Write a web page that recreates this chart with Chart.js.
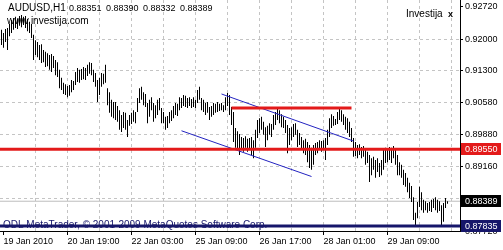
<!DOCTYPE html>
<html><head><meta charset="utf-8">
<script src="https://cdn.jsdelivr.net/npm/chart.js@4"></script>
<style>html,body{margin:0;padding:0;background:#fff;}#wrap{width:503px;height:250px;}</style>
</head><body><div id="wrap"><canvas id="c" width="503" height="250"></canvas></div>
<script>
// ---- data (AUDUSD H1) ----
const highs = [
0.9221,0.9214,0.9223,0.9225,0.9234,0.9243,0.9247,0.9250,0.9245,0.9252,0.9254,0.9250,0.9252,0.9245,0.9239,0.9234,
0.9210,0.9198,0.9194,0.9187,0.9189,0.9176,0.9172,0.9169,0.9165,0.9167,0.9163,0.9154,0.9149,0.9132,0.9114,0.9103,
0.9100,0.9096,0.9098,0.9109,0.9107,0.9127,0.9136,0.9132,0.9134,0.9138,0.9136,0.9143,0.9149,0.9147,0.9132,0.9125,
0.9109,0.9114,0.9125,0.9123,0.9143,0.9091,0.9082,0.9065,0.9060,0.9060,0.9051,0.9042,0.9031,0.9038,0.9036,0.9020,
0.9031,0.9036,0.9042,0.9038,0.9069,0.9091,0.9094,0.9082,0.9078,0.9058,0.9065,0.9071,0.9058,0.9053,0.9065,0.9069,
0.9047,0.9038,0.9027,0.9029,0.9038,0.9042,0.9051,0.9058,0.9056,0.9071,0.9069,0.9076,0.9074,0.9069,0.9071,0.9067,
0.9071,0.9065,0.9087,0.9094,0.9069,0.9065,0.9058,0.9060,0.9049,0.9051,0.9058,0.9056,0.9060,0.9056,0.9058,0.9053,
0.9071,0.9080,0.9076,0.9049,0.9038,0.9002,0.8995,0.8989,0.8982,0.8980,0.8984,0.8978,0.8980,0.8982,0.8975,0.8998,
0.9020,0.9024,0.9027,0.9016,0.9004,0.9007,0.9013,0.9011,0.9031,0.9038,0.9047,0.9042,0.9033,0.9027,0.9020,0.9009,
0.9002,0.9004,0.9011,0.9013,0.8998,0.8991,0.8982,0.8975,0.8978,0.8971,0.8964,0.8958,0.8964,0.8969,0.8971,0.8975,
0.8973,0.8975,0.8980,0.8998,0.9024,0.9033,0.9029,0.9022,0.9038,0.9045,0.9042,0.9033,0.9027,0.9024,0.9016,0.9002,
0.8980,0.8971,0.8964,0.8966,0.8960,0.8962,0.8953,0.8949,0.8942,0.8935,0.8938,0.8931,0.8935,0.8924,0.8931,0.8953,
0.8958,0.8955,0.8960,0.8958,0.8962,0.8953,0.8942,0.8926,0.8920,0.8909,0.8902,0.8891,0.8880,0.8873,0.8848,0.8813,
0.8837,0.8871,0.8859,0.8842,0.8839,0.8835,0.8837,0.8842,0.8844,0.8848,0.8842,0.8839,0.8830,0.8835,0.8846,0.8839
];
const lows = [
0.9187,0.9181,0.9194,0.9176,0.9207,0.9214,0.9221,0.9225,0.9223,0.9230,0.9227,0.9232,0.9225,0.9218,0.9214,0.9203,
0.9154,0.9165,0.9160,0.9154,0.9147,0.9149,0.9138,0.9140,0.9132,0.9127,0.9136,0.9120,0.9116,0.9091,0.9087,0.9078,
0.9076,0.9071,0.9074,0.9082,0.9087,0.9098,0.9105,0.9103,0.9109,0.9111,0.9109,0.9118,0.9123,0.9120,0.9105,0.9094,
0.9060,0.9076,0.9094,0.9100,0.9103,0.9053,0.9036,0.9027,0.9024,0.9020,0.9016,0.8998,0.8993,0.9002,0.8998,0.8982,
0.9007,0.9011,0.9016,0.9013,0.9038,0.9058,0.9065,0.9053,0.9049,0.9013,0.9027,0.9042,0.9016,0.9024,0.9031,0.9042,
0.9013,0.9013,0.8998,0.9002,0.9013,0.9018,0.9024,0.9031,0.9029,0.9042,0.9047,0.9051,0.9049,0.9047,0.9051,0.9047,
0.9049,0.9047,0.9058,0.9065,0.9042,0.9038,0.9031,0.9036,0.9020,0.9027,0.9031,0.9036,0.9038,0.9040,0.9042,0.9038,
0.9042,0.9051,0.9031,0.9009,0.8971,0.8958,0.8953,0.8942,0.8953,0.8949,0.8958,0.8949,0.8953,0.8942,0.8935,0.8958,
0.8980,0.8991,0.8998,0.8987,0.8960,0.8975,0.8987,0.8982,0.8998,0.9009,0.9020,0.9013,0.9004,0.9002,0.8991,0.8946,
0.8964,0.8975,0.8982,0.8987,0.8960,0.8964,0.8953,0.8946,0.8942,0.8926,0.8913,0.8909,0.8920,0.8942,0.8946,0.8953,
0.8949,0.8953,0.8931,0.8964,0.8982,0.9002,0.9007,0.9009,0.9011,0.9020,0.9016,0.9009,0.8998,0.8991,0.8982,0.8971,
0.8938,0.8940,0.8935,0.8942,0.8935,0.8938,0.8920,0.8924,0.8882,0.8897,0.8909,0.8891,0.8904,0.8893,0.8897,0.8909,
0.8924,0.8926,0.8931,0.8924,0.8935,0.8920,0.8897,0.8897,0.8891,0.8875,0.8871,0.8859,0.8846,0.8837,0.8797,0.87835,
0.8801,0.8826,0.8819,0.8813,0.8819,0.8813,0.8817,0.8815,0.8824,0.8819,0.8813,0.8817,0.87835,0.8793,0.8824,0.88332
];
const xTickIndex  = [1, 33, 65, 97, 129, 161, 193];
const xTickLabels = ['19 Jan 2010','20 Jan 19:00','22 Jan 03:00','25 Jan 09:00','26 Jan 17:00','28 Jan 01:00','29 Jan 09:00'];
const xGridIndex  = [17,33,49,65,81,97,113,129,145,161,177,193,209,225];
const yTickValues = [0.92720,0.92000,0.91300,0.90580,0.89880,0.89160,0.88440,0.87720];
const supportLevel = 0.89550;
const lowLevel     = 0.87835;
const bidPrice     = 0.88389;
const resistance   = [[115,0.9047],[175,0.9047]];
const channelUpper = [[110,0.9078],[176,0.8973]];
const channelLower = [[90,0.8996],[155,0.8894]];
const symbolText   = 'AUDUSD,H1';
const ohlcText     = ['0.88351','0.88390','0.88332','0.88389'];
const xMin = -0.75, xMax = 229.25, yMin = 0.87725, yMax = 0.92876;

const FONT = '"Liberation Sans", Arial, sans-serif';
const RED = '#e31a1a', NAVY = '#16166a', BLUE = '#2323c0', GRID = '#c4c4c4';

const pts = arr => arr.map(p => ({x:p[0], y:p[1]}));
const hline = v => [{x:xMin,y:v},{x:xMax,y:v}];

const allXTicks = Array.from(new Set([...xTickIndex, ...xGridIndex])).sort((a,b)=>a-b);

const overlay = {
  id:'overlay',
  beforeDatasetsDraw(chart){
    const ctx = chart.ctx;
    ctx.save();
    ctx.fillStyle = '#000';
    ctx.textBaseline = 'alphabetic';
    ctx.font = '10px ' + FONT;
    ctx.fillText(symbolText, 8, 11);
    ctx.font = '9px ' + FONT;
    let x = 69;
    ohlcText.forEach(t => { ctx.fillText(t, x, 11); x += 37; });
    ctx.font = '10px ' + FONT;
    ctx.fillText('www.investija.com', 7, 24);
    ctx.fillText('Investija', 406, 17);
    ctx.font = 'bold 9px ' + FONT;
    ctx.fillText('x', 448, 17);
    ctx.fillStyle = NAVY;
    ctx.font = '10px ' + FONT;
    ctx.fillText('ODL MetaTrader, \u00a9 2001-2009 MetaQuotes Software Corp.', 3, 228);
    ctx.restore();
  },
  afterDraw(chart){
    const ctx = chart.ctx, ys = chart.scales.y;
    const box = (v, txt, bg) => {
      const py = Math.round(ys.getPixelForValue(v));
      ctx.fillStyle = bg;
      ctx.fillRect(461, py - 6, 40, 12);
      ctx.fillStyle = '#fff';
      ctx.font = '9px ' + FONT;
      ctx.textBaseline = 'middle';
      ctx.fillText(txt, 465, py + 0.5);
    };
    ctx.save();
    box(supportLevel, supportLevel.toFixed(5), RED);
    box(bidPrice, bidPrice.toFixed(5), '#000');
    box(lowLevel, lowLevel.toFixed(5), NAVY);
    ctx.restore();
  }
};

new Chart(document.getElementById('c'), {
  type:'bar',
  data:{datasets:[
    {type:'line', data:hline(supportLevel), borderColor:RED, borderWidth:3, pointRadius:0, order:1},
    {type:'line', data:hline(lowLevel), borderColor:NAVY, borderWidth:3, pointRadius:0, order:1},
    {type:'line', data:pts(resistance), borderColor:RED, borderWidth:3, pointRadius:0, order:1},
    {type:'line', data:pts(channelUpper), borderColor:BLUE, borderWidth:1, pointRadius:0, order:1},
    {type:'line', data:pts(channelLower), borderColor:BLUE, borderWidth:1, pointRadius:0, order:1},
    {type:'bar', data:highs.map((h,i)=>({x:i, y:[lows[i], h]})), backgroundColor:'#000', borderWidth:0,
      barThickness:1, inflateAmount:0, order:5},
    {type:'line', data:hline(bidPrice), borderColor:'#bdbdbd', borderWidth:1, pointRadius:0, order:8}
  ]},
  options:{
    responsive:false, maintainAspectRatio:false, devicePixelRatio:1, animation:false, events:[],
    layout:{padding:0, autoPadding:false},
    plugins:{legend:{display:false}, tooltip:{enabled:false}},
    scales:{
      x:{type:'linear', position:'bottom', min:xMin, max:xMax, offset:false,
        afterBuildTicks:s=>{ s.ticks = allXTicks.map(v=>({value:v})); },
        afterFit:s=>{ s.height = 19; s.paddingLeft = 0; s.paddingRight = 0; },
        ticks:{autoSkip:false, maxRotation:0, minRotation:0, align:'start', padding:1,
          color:'#000', font:{family:FONT, size:9},
          callback:v=>{ const k = xTickIndex.indexOf(v); return k>=0 ? xTickLabels[k] : ''; }},
        grid:{offset:false, drawTicks:true, tickLength:4, lineWidth:1,
          color:c=> (c.tick && c.tick.value===1) ? 'rgba(0,0,0,0)' : GRID,
          tickColor:c=> (c.tick && xTickIndex.includes(c.tick.value)) ? '#000' : 'rgba(0,0,0,0)'},
        border:{display:true, color:'#000', width:1, dash:[3,3]}
      },
      y:{type:'linear', position:'right', min:yMin, max:yMax,
        afterBuildTicks:s=>{ s.ticks = yTickValues.map(v=>({value:v})); },
        afterFit:s=>{ s.width = 43; s.paddingTop = 0; s.paddingBottom = 0; },
        ticks:{padding:2, color:'#000', font:{family:FONT, size:9}, callback:v=>v.toFixed(5)},
        grid:{drawTicks:true, tickLength:3, lineWidth:1,
          color:c=> c.index===0 ? 'rgba(0,0,0,0)' : GRID, tickColor:'#000'},
        border:{display:true, color:'#000', width:1, dash:[3,3]}
      }
    }
  },
  plugins:[overlay]
});
</script>
</body></html>
